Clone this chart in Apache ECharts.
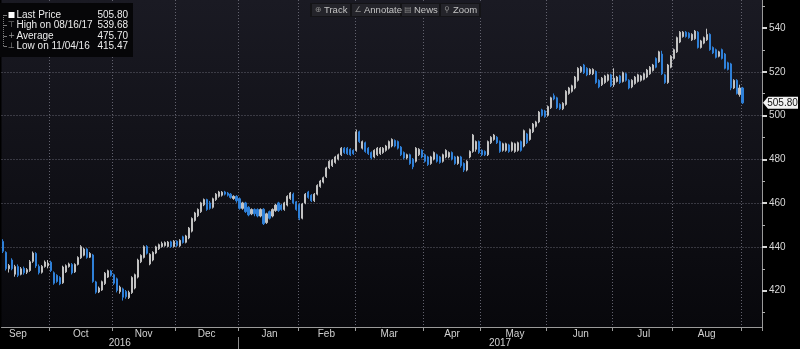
<!DOCTYPE html>
<html>
<head>
<meta charset="utf-8">
<script src="https://cdn.jsdelivr.net/npm/echarts@6/dist/echarts.min.js"></script>
<style>
  html, body { margin: 0; padding: 0; background: #000; }
  #chart { width: 800px; height: 349px; }
</style>
</head>
<body>
<div id="chart"></div>
<script>
// Exchange calendar used to lay out one category per trading session
const calendarStart = '2016-09-01';
const calendarEnd = '2017-09-12';
const firstSession = '2016-09-09';
const holidays = ['2016-09-05', '2016-11-24', '2016-12-26', '2017-01-02', '2017-01-16',
  '2017-02-20', '2017-04-14', '2017-05-29', '2017-07-04', '2017-09-04'];

// Daily OHLC, one entry per session from 2016-09-09 to 2017-09-01
const opens = [
  442.5, 437.5, 430, 434, 427.5, 431, 427.5, 430.2, 428.4, 429.2, 433.4, 437, 431.1, 428.4, 431, 431.3,
  433, 428.2, 427, 426, 423.6, 428.6, 431, 432, 428.6, 432, 435, 436.2, 439, 435.3, 436.3, 424, 419.4, 420.3, 423.2, 426.2, 429,
  427.3, 425.4, 419.5, 420.8, 419.6, 416.8, 419.1, 421.2, 426.2, 433.2, 435.2, 440.2, 432.2, 434, 437.2, 439.1, 440.1, 440.6, 440.2, 442.3, 440.2,
  442.6, 440.5, 444.6, 442.1, 444.1, 447.2, 452.1, 454.2, 456.1, 459.2, 461.6, 460.1, 458.1, 461.6, 463.1, 463.6, 465.1, 464.6, 464.1, 462.1, 463.1,
  462, 457.6, 460.1, 458.1, 455.1, 457.1, 457.1, 454.1, 457.2, 451.1, 456.1, 454.1, 456.6, 460.1, 459.1, 457.1, 459.1, 462.1, 464.1, 460.6,
  459.1, 453.1, 460.1, 465.1, 463.6, 461.1, 464.1, 467.6, 469.6, 472.1, 476.1, 477.1, 478.6, 480.1, 482.1, 485.1, 485.1, 484.6, 484.1,
  484.1, 492.6, 485.1, 487.6, 485.1, 483.1, 481.1, 482.1, 482.6, 483.1, 484.1, 485.1, 486.1, 488.6, 488.1, 485.6, 483.1, 480.6, 482.1, 480.1, 479.1, 482.1, 484.1,
  482.1, 481.1, 478.1, 480.1, 482.1, 481.1, 479.1, 481.1, 481.1, 483.1, 481.1, 478.1, 481.1, 478.1, 475.1, 481.1, 483.6, 484.6, 488.1,
  484.1, 483.6, 482.1, 487.6, 489.1, 490.1, 488.1, 484.1, 484.1, 486.6, 484.1, 483.6, 484.1, 488.1, 486.1, 491.6, 489.1, 492.6, 495.1, 497.1, 502.6, 502.1,
  500.1, 503.6, 509.1, 508.1, 505.1, 503.1, 505.1, 510.1, 511.1, 512.6, 516.1, 520.1, 523.1, 521.6, 519.1, 519.1, 520.1, 516.1, 514.1, 515.1, 516.1, 518.6,
  514.1, 515.6, 518.1, 515.6, 519.1, 516.1, 513.1, 514.6, 515.6, 516.1, 516.6, 517.6, 519.1, 520.6, 526.1, 524.6, 528.1, 518.6, 515.1, 522.1,
  526.1, 529.1, 533.6, 536.1, 538.1, 537.6, 534.6, 535.1, 538.1, 531.1, 533.1, 534.6, 537.1, 531.1, 530.1, 527.1, 530.1, 528.1, 524.1, 523.6, 512.6, 516.1, 509.6,
  512.6
];
const closes = [
  438, 430, 431.5, 430, 431, 427, 430, 428.2, 429.6, 433.2, 437.2, 431.3, 428.2, 431.1, 433.1, 432.6,
  429.2, 423.4, 424.2, 423.1, 430.8, 431.4, 432.2, 428.1, 432, 435.2, 440.1, 439, 435.2, 437, 424.2, 419.3, 421.2, 424.1, 428, 429.1, 427,
  423.4, 420.1, 421.6, 417, 417.2, 419.2, 426, 427.3, 434, 436.1, 440.1, 437.1, 436.6, 437.5, 440, 441, 441.6, 442, 442.2, 440.1, 442.6,
  440.6, 443, 442, 445, 448.6, 453, 455.5, 457.1, 460.1, 461.6, 457.1, 457.6, 462, 464.1, 465.1, 465, 464.1, 463.6, 462.6, 463.1, 461.1,
  457.6, 460.1, 456.1, 454.6, 457.1, 455.1, 454.1, 457.1, 450.6, 455.1, 453.1, 457.1, 459.1, 456.6, 457.1, 460.1, 463.1, 464.6, 460.1, 457.1,
  453.1, 459.6, 464.1, 462.6, 461.1, 464.1, 468.1, 470.1, 471.6, 476.1, 479.1, 479.6, 481.1, 482.1, 485.1, 483.1, 482.6, 482.1, 482.6,
  492.6, 488.1, 488.1, 483.6, 482.6, 480.6, 484.1, 485.1, 485.1, 485.1, 486.1, 488.1, 489.1, 486.1, 485.1, 482.1, 480.6, 482.1, 478.1, 476.6, 485.1, 484.6, 481.1,
  479.1, 477.6, 481.1, 483.1, 479.1, 478.6, 482.1, 484.1, 483.1, 480.1, 478.1, 481.1, 477.1, 475.1, 479.1, 483.6, 491.1, 488.1, 483.1,
  482.1, 482.1, 488.1, 490.1, 491.1, 487.6, 483.6, 487.1, 487.1, 483.6, 487.6, 487.1, 487.6, 484.1, 493.1, 487.6, 493.6, 496.1, 497.1, 501.6, 500.1, 499.6,
  504.1, 508.1, 507.6, 503.6, 503.1, 505.6, 511.1, 512.6, 513.6, 517.6, 521.6, 522.1, 519.6, 518.6, 521.1, 521.1, 515.1, 513.1, 517.1, 518.1, 518.6, 513.6,
  517.1, 517.6, 515.1, 519.6, 516.1, 512.6, 516.1, 517.6, 518.6, 518.1, 519.1, 520.8, 522.1, 523.1, 522.1, 529.1, 519.1, 515.1, 523.1, 527.1,
  530.1, 535.6, 538.1, 538.1, 536.1, 535.6, 537.1, 538.6, 531.1, 534.1, 535.6, 537.1, 530.1, 528.6, 526.6, 529.1, 526.1, 521.6, 521.1, 512.6, 516.1, 510.1, 512.6,
  505.8
];
const lows = [
  437.2, 429.2, 428.3, 429.3, 426.4, 426.2, 427, 427.3, 427.6, 428.6, 432.7, 430.4, 427.4, 427.8, 430.5, 430.2,
  428.5, 422.7, 423.6, 422.5, 423.1, 428.1, 430.5, 427.4, 428.1, 431.5, 434.5, 435.7, 434.6, 434.9, 423.6, 418.6, 418.9, 419.9, 422.6, 425.8, 426.4,
  422.6, 419.2, 418.6, 415.47, 416.3, 416.2, 418.5, 420.6, 425.6, 432.6, 434.7, 436.5, 431.6, 433.4, 436.7, 438.6, 439.7, 440.1, 439.8, 439.5, 439.7,
  440, 440, 441.5, 441.6, 443.5, 446.6, 451.5, 453.6, 455.5, 458.6, 456.5, 457, 457.5, 461, 462.5, 463, 463.5, 463, 462, 461.5, 460.2,
  457, 457, 455.5, 454, 454.5, 454, 453.5, 453.5, 450, 450.5, 452.5, 453.5, 456, 456, 456.5, 456.5, 458.5, 461.5, 459.5, 456.5,
  452.2, 452.6, 459.5, 462, 460.5, 460.5, 463.5, 467, 469, 471.5, 475.5, 476.5, 478, 479.5, 481.5, 482.5, 482, 481.5, 482,
  483.5, 487.5, 484.5, 483, 482, 480, 480.5, 481.5, 482, 482.5, 483.5, 484.5, 485.5, 485.5, 484.5, 481.5, 480, 480, 477.5, 475.5, 478.5, 481.5, 480.5,
  478.5, 477, 477.5, 479.5, 478.5, 478, 478.5, 480.5, 480.5, 479.5, 477.5, 477.5, 476.2, 474.2, 474.5, 480.5, 483, 483.5, 482.5,
  481.5, 481.5, 481.5, 487, 488.5, 487, 483, 483.5, 483.5, 483, 483.5, 483, 483.5, 483.5, 485.5, 487, 488.5, 492, 494.5, 496.5, 499.5, 499,
  499.5, 503, 507, 503, 502.5, 502.5, 504.5, 509.5, 510.5, 512, 515.5, 519.5, 519, 518, 518.5, 518.5, 514.5, 512.5, 513.5, 514.5, 515.5, 513,
  513.1, 515.1, 514.5, 515.1, 515.5, 512, 512.5, 514.1, 515.1, 515.5, 516.1, 517.1, 518.6, 520.1, 521.6, 524.1, 518.5, 514.5, 514.5, 521.6,
  525.6, 528.6, 533.1, 535.6, 535.6, 535.1, 534.1, 534.6, 530.6, 530.6, 532.6, 534.1, 529.6, 528.1, 526.1, 526.6, 525.6, 521.1, 520.6, 511.6, 512.1, 509.6, 508.6,
  505.3
];
const highs = [
  443.5, 438, 432.2, 434.8, 431.8, 432, 430.8, 431, 430.3, 434, 437.9, 437.6, 432, 431.7, 433.8, 434,
  433.7, 428.8, 427.5, 426.6, 431.4, 432, 432.8, 432.6, 432.5, 435.7, 440.8, 439.6, 439.4, 437.6, 436.8, 424.5, 421.9, 424.6, 428.5, 429.6, 429.5,
  427.8, 426, 422.3, 421.4, 420.3, 420, 426.6, 427.8, 434.6, 436.6, 440.7, 440.8, 437.1, 438, 440.5, 441.5, 442.4, 442.5, 442.7, 442.8, 443.1,
  443, 443.5, 445.1, 445.5, 449.1, 453.5, 456, 457.6, 460.6, 462.1, 462, 461, 462.5, 464.6, 465.6, 465.5, 465.6, 465.1, 464.6, 463.6, 463.6,
  462.6, 460.6, 460.6, 458.6, 457.6, 457.6, 457.6, 457.6, 457.7, 455.6, 456.6, 457.6, 459.6, 460.6, 459.6, 460.6, 463.6, 465.1, 464.8, 461,
  460, 460.1, 464.6, 465.6, 464.1, 464.6, 468.6, 470.6, 472.1, 476.6, 479.6, 480.1, 481.6, 482.6, 485.6, 485.6, 485.6, 485.1, 484.6,
  493.6, 493.1, 488.6, 488.1, 485.6, 483.6, 484.6, 485.6, 485.6, 485.6, 486.6, 488.6, 489.6, 489.1, 488.6, 486.1, 483.6, 482.6, 482.6, 480.6, 485.6, 485.1, 484.6,
  482.6, 481.6, 481.6, 483.6, 482.6, 481.6, 482.6, 484.6, 483.6, 483.6, 481.6, 481.6, 481.6, 478.6, 479.6, 484.1, 491.6, 488.6, 488.6,
  484.6, 484.1, 488.6, 490.6, 491.6, 490.6, 488.6, 487.6, 487.6, 487.1, 488.1, 487.6, 488.1, 488.6, 493.6, 492.1, 494.1, 496.6, 497.6, 502.1, 503.1, 502.6,
  504.6, 508.6, 510.1, 508.6, 505.6, 506.1, 511.6, 513.1, 514.1, 518.1, 522.1, 522.6, 523.6, 522.1, 521.6, 521.6, 520.6, 516.6, 517.6, 518.6, 519.1, 519.1,
  521.6, 518.1, 518.6, 520.1, 519.6, 516.6, 516.6, 518.1, 519.1, 518.6, 519.6, 521.3, 522.6, 523.6, 526.6, 529.6, 529.6, 519.1, 523.6, 527.6,
  530.6, 536.1, 538.6, 538.6, 538.6, 538.1, 537.6, 539.1, 538.6, 534.6, 536.1, 539.68, 537.6, 531.6, 530.6, 529.6, 530.6, 528.6, 524.6, 524.1, 516.6, 516.6, 514.1,
  513.1
];
const averageClose = 475.70;

// Price axis
const priceMin = 403.4;
const priceMax = 552.8;
const priceTicks = [420, 440, 460, 480, 500, 520, 540];
const priceMinorTicks = [410, 430, 450, 470, 490, 510, 530, 550];
const monthNames = ['Jan', 'Feb', 'Mar', 'Apr', 'May', 'Jun', 'Jul', 'Aug', 'Sep', 'Oct', 'Nov', 'Dec'];

const FONT = '"Liberation Sans", Arial, sans-serif';

function tradingSessions(from, to) {
  const out = [];
  const d = new Date(from + 'T00:00:00Z');
  const end = new Date(to + 'T00:00:00Z');
  while (d <= end) {
    const dow = d.getUTCDay();
    const iso = d.toISOString().slice(0, 10);
    if (dow !== 0 && dow !== 6 && holidays.indexOf(iso) < 0) out.push(iso);
    d.setUTCDate(d.getUTCDate() + 1);
  }
  return out;
}

const allSessions = tradingSessions(calendarStart, calendarEnd);
const lead = allSessions.indexOf(firstSession);
const dates = allSessions.slice(lead);
const nData = closes.length;

// candle rows: [open, close, low, high]; sessions after the last print stay empty
const candles = dates.map((d, i) => i < nData ? [opens[i], closes[i], lows[i], highs[i]] : '-');

// month boundaries, month label slots and year label slots
const monthStarts = new Set();
const yearStarts = [];
for (let i = 1; i < dates.length; i++) {
  if (dates[i].slice(0, 7) !== dates[i - 1].slice(0, 7)) monthStarts.add(i);
  if (dates[i].slice(0, 4) !== dates[i - 1].slice(0, 4)) yearStarts.push(i);
}
const monthSpan = {};
allSessions.forEach((d, k) => {
  const key = d.slice(0, 7);
  if (!monthSpan[key]) monthSpan[key] = [k, k];
  monthSpan[key][1] = k;
});
const monthLabelSlots = new Set();
Object.keys(monthSpan).forEach(key => {
  const first = monthSpan[key][0] - lead, last = monthSpan[key][1] - lead;
  if (last < nData) monthLabelSlots.add(Math.round((first + last) / 2));
});
const yearSpan = {};
dates.forEach((d, i) => {
  const y = d.slice(0, 4);
  if (!yearSpan[y]) yearSpan[y] = [i, i];
  yearSpan[y][1] = i;
});
const yearLabelSlots = new Set(Object.keys(yearSpan).map(y => Math.round((yearSpan[y][0] + yearSpan[y][1]) / 2)));

const chart = echarts.init(document.getElementById('chart'), null, { renderer: 'canvas' });

const axisGray = '#9a9a9a';
const gridDots = { color: '#62626e', type: [1, 2], width: 1 };

chart.setOption({
  animation: false,
  backgroundColor: '#000',
  grid: {
    left: 1.5, right: 38, top: 0, bottom: 22,
    show: true, borderWidth: 0,
    backgroundColor: new echarts.graphic.LinearGradient(0, 0, 0, 1, [
      { offset: 0, color: '#1a1a23' },
      { offset: 1, color: '#08080c' }
    ])
  },
  xAxis: [
    {
      type: 'category', data: dates, boundaryGap: true, position: 'bottom',
      axisLine: { show: true, lineStyle: { color: axisGray, width: 1 } },
      axisTick: { show: true, interval: (i) => monthStarts.has(i), length: 4, lineStyle: { color: axisGray } },
      splitLine: { show: true, interval: (i) => monthStarts.has(i), lineStyle: gridDots },
      axisLabel: {
        interval: (i) => monthLabelSlots.has(i),
        formatter: (v) => monthNames[parseInt(v.slice(5, 7), 10) - 1],
        color: '#d2d2d2', fontSize: 10, fontFamily: FONT, margin: 2
      }
    },
    {
      type: 'category', data: dates, boundaryGap: true, position: 'bottom', offset: 10,
      axisLine: { show: false }, axisTick: { show: false }, splitLine: { show: false },
      axisLabel: {
        interval: (i) => yearLabelSlots.has(i),
        formatter: (v) => v.slice(0, 4),
        color: '#d2d2d2', fontSize: 10, fontFamily: FONT, margin: 1
      }
    }
  ],
  yAxis: [
    {
      type: 'value', position: 'right', min: priceMin, max: priceMax, splitNumber: 7,
      axisLine: { show: true, lineStyle: { color: axisGray, width: 1 } },
      axisTick: { show: true, customValues: priceTicks, length: 5, lineStyle: { color: '#d6d6d6', width: 2 } },
      axisLabel: { customValues: priceTicks, color: '#d8d8d8', fontSize: 10, fontFamily: FONT, margin: 7 },
      splitLine: { show: true, showMinLine: false, showMaxLine: false, lineStyle: gridDots }
    },
    {
      type: 'value', position: 'right', min: priceMin, max: priceMax, splitNumber: 7,
      axisLine: { show: false },
      axisTick: { show: true, customValues: priceMinorTicks, length: 3, lineStyle: { color: '#b0b0b0', width: 1 } },
      axisLabel: { show: false },
      splitLine: { show: false }
    }
  ],
  series: [{
    type: 'candlestick',
    xAxisIndex: 0, yAxisIndex: 0,
    data: candles,
    barWidth: 1.6,
    silent: true,
    itemStyle: {
      color: '#c2c2c2', color0: '#2f80d8',
      borderColor: '#c2c2c2', borderColor0: '#2f80d8', borderWidth: 1
    }
  }]
});

// ---- overlays: summary box, toolbar, year divider and last price tag ----
function mdY(iso) { return iso.slice(5, 7) + '/' + iso.slice(8, 10) + '/' + iso.slice(2, 4); }
let hiIdx = 0, loIdx = 0;
for (let i = 0; i < nData; i++) {
  if (highs[i] > highs[hiIdx]) hiIdx = i;
  if (lows[i] < lows[loIdx]) loIdx = i;
}
const lastClose = closes[nData - 1];

const rows = [
  { label: 'Last Price', value: lastClose.toFixed(2), icon: 'box' },
  { label: 'High on ' + mdY(dates[hiIdx]), value: highs[hiIdx].toFixed(2), icon: '\u22A4' },
  { label: 'Average', value: averageClose.toFixed(2), icon: '+' },
  { label: 'Low on ' + mdY(dates[loIdx]), value: lows[loIdx].toFixed(2), icon: '\u22A5' }
];

const g = [];
g.push({ type: 'rect', z: 100, shape: { x: 0, y: 3, width: 133, height: 54 }, style: { fill: '#060608' } });
g.push({ type: 'line', z: 101, shape: { x1: 3.5, y1: 15, x2: 3.5, y2: 46 }, style: { stroke: '#7a7a7a', lineWidth: 1, lineDash: [1, 1] } });
rows.forEach((r, k) => {
  const y = 15 + k * 10.4;
  g.push({ type: 'line', z: 101, shape: { x1: 3.5, y1: Math.round(y) + 0.5, x2: 7, y2: Math.round(y) + 0.5 }, style: { stroke: '#7a7a7a', lineWidth: 1 } });
  if (r.icon === 'box') {
    g.push({ type: 'rect', z: 101, shape: { x: 8.5, y: y - 3, width: 6, height: 6 }, style: { fill: '#ffffff' } });
  } else {
    g.push({ type: 'text', z: 101, x: 11.5, y: y, style: { text: r.icon, fill: '#9a9a9a', font: '8px "DejaVu Sans", sans-serif', align: 'center', verticalAlign: 'middle' } });
  }
  g.push({ type: 'text', z: 101, x: 16.5, y: y, style: { text: r.label, fill: '#ececec', font: '10px ' + FONT, align: 'left', verticalAlign: 'middle' } });
  g.push({ type: 'text', z: 101, x: 128, y: y, style: { text: r.value, fill: '#ececec', font: '10px ' + FONT, align: 'right', verticalAlign: 'middle' } });
});

// toolbar
const tools = [
  { icon: '\u2295', text: 'Track', x: 312, w: 38 },
  { icon: '\u2220', text: 'Annotate', x: 352, w: 48 },
  { icon: '\u25A4', text: 'News', x: 402, w: 37 },
  { icon: '\u26B2', text: 'Zoom', x: 441, w: 38 }
];
g.push({ type: 'rect', z: 100, shape: { x: 310, y: 3, width: 171, height: 14 }, style: { fill: '#141417' } });
tools.forEach(t => {
  g.push({ type: 'rect', z: 101, shape: { x: t.x, y: 4, width: t.w, height: 12 }, style: { fill: '#24242a' } });
  g.push({ type: 'text', z: 102, x: t.x + 6, y: 10, style: { text: t.icon, fill: '#8c8c8c', font: '8px "DejaVu Sans", sans-serif', align: 'center', verticalAlign: 'middle' } });
  g.push({ type: 'text', z: 102, x: t.x + 12, y: 10, style: { text: t.text, fill: '#c4c4c4', font: '9.5px ' + FONT, align: 'left', verticalAlign: 'middle' } });
});

// year divider below the month labels
yearStarts.forEach(i => {
  const xb = (chart.convertToPixel({ xAxisIndex: 0 }, i) + chart.convertToPixel({ xAxisIndex: 0 }, i - 1)) / 2;
  const xs = Math.round(xb) + 0.5;
  g.push({ type: 'line', z: 100, shape: { x1: xs, y1: 337, x2: xs, y2: 349 }, style: { stroke: '#8a8a8a', lineWidth: 1 } });
});

// last price tag on the price axis
const yLast = chart.convertToPixel({ yAxisIndex: 0 }, lastClose);
const axisX = chart.getWidth() - 38;
g.push({
  type: 'polygon', z: 100,
  shape: { points: [[axisX + 1, yLast], [axisX + 6, yLast - 6], [798, yLast - 6], [798, yLast + 6], [axisX + 6, yLast + 6]] },
  style: { fill: '#f2f2f2' }
});
g.push({ type: 'text', z: 101, x: 782.5, y: yLast, style: { text: lastClose.toFixed(2), fill: '#111', font: '10px ' + FONT, align: 'center', verticalAlign: 'middle' } });

chart.setOption({ graphic: g });
</script>
</body>
</html>
